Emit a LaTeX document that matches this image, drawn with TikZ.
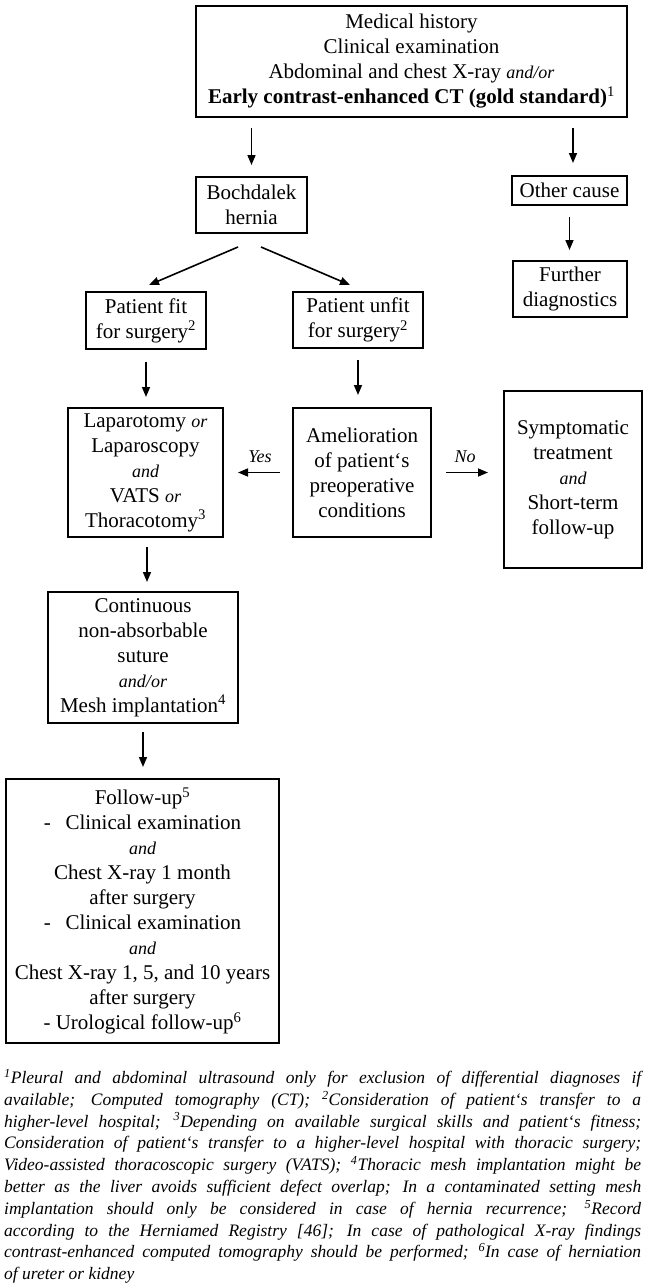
\documentclass[tikz,border=0pt]{standalone}
\usepackage{fontspec}
\setmainfont{Liberation Serif}
\usetikzlibrary{arrows.meta}
\newcommand{\smit}[1]{{\fontsize{18}{25}\selectfont\itshape #1}}
\begin{document}
\begin{tikzpicture}[x=1pt,y=-1pt,
  box/.style={draw, line width=1.8pt, rectangle, align=center, inner sep=0pt, outer sep=0pt, font=\fontsize{21}{25}\selectfont},
  arr/.style={line width=1.6pt, -{Triangle[length=10pt,width=8pt]}},
  lbl/.style={font=\fontsize{18}{22}\selectfont\itshape, inner sep=0pt}]
\fill[white] (0,0) rectangle (653,1287);
\useasboundingbox (0,0) rectangle (653,1287);

\node[box, minimum width=431pt, minimum height=111pt] (top) at (411.5,61.5)
  {Medical history\\ Clinical examination\\ Abdominal and chest X-ray \smit{and/or}\\
   \textbf{Early contrast-enhanced CT (gold standard)}\textsuperscript{1}};
\node[box, minimum width=111pt, minimum height=56pt] (boch) at (251.5,205) {Bochdalek\\ hernia};
\node[box, minimum width=115pt, minimum height=29pt] (other) at (569.5,190.5) {Other cause};
\node[box, minimum width=114pt, minimum height=56pt] (further) at (570,289) {Further\\ diagnostics};
\node[box, minimum width=120pt, minimum height=57pt] (fit) at (146,320.5) {Patient fit\\ for surgery\textsuperscript{2}};
\node[box, minimum width=130pt, minimum height=56pt] (unfit) at (358,320) {Patient unfit\\ for surgery\textsuperscript{2}};
\node[box, minimum width=155pt, minimum height=129pt] (lap) at (145.5,472.5)
  {Laparotomy \smit{or}\\ Laparoscopy\\ \smit{and}\\ VATS \smit{or}\\ Thoracotomy\textsuperscript{3}};
\node[box, minimum width=138pt, minimum height=129pt] (amel) at (362,472.5)
  {Amelioration\\ of patient‘s\\ preoperative\\ conditions};
\node[box, minimum width=138pt, minimum height=177pt] (symp) at (573,479.5)
  {Symptomatic\\ treatment\\ \smit{and}\\ Short-term\\ follow-up};
\node[box, minimum width=190pt, minimum height=131pt] (cont) at (143,657.5)
  {Continuous\\ non-absorbable\\ suture\\ \smit{and/or}\\ Mesh implantation\textsuperscript{4}};
\node[box, minimum width=273pt, minimum height=264pt] (follow) at (142.5,911)
  {Follow-up\textsuperscript{5}\\
   -\hspace{0.7em}Clinical examination\\ \smit{and}\\ Chest X-ray 1 month\\ after surgery\\
   -\hspace{0.7em}Clinical examination\\ \smit{and}\\ Chest X-ray 1, 5, and 10 years\\ after surgery\\
   - Urological follow-up\textsuperscript{6}};

\node[lbl] (yes) at (260,457) {Yes};
\node[lbl] (no) at (465,457) {No};

\draw[arr, shorten <=11pt, shorten >=12pt] (top.south -| boch.north) -- (boch.north);
\draw[arr, shorten <=11pt, shorten >=13pt] ([xshift=3.5pt]top.south -| other.north) -- ([xshift=3.5pt]other.north);
\draw[arr, shorten <=12pt, shorten >=11pt] (other.south) -- (other.south |- further.north);
\draw[arr] ([xshift=-13.5pt,yshift=-14pt]boch.south) -- ([xshift=3pt,yshift=7pt]fit.north);
\draw[arr] ([xshift=9.5pt,yshift=-14pt]boch.south) -- ([xshift=-8pt,yshift=7pt]unfit.north);
\draw[arr, shorten <=13pt, shorten >=11pt] (fit.south) -- (fit.south |- lap.north);
\draw[arr, shorten <=12pt, shorten >=13pt] (unfit.south) -- (unfit.south |- amel.north);
\draw[arr, shorten <=13pt, shorten >=15pt] (amel.west) -- (amel.west -| lap.east);
\draw[arr, shorten <=15pt, shorten >=16pt] (amel.east) -- (amel.east -| symp.west);
\draw[arr, shorten <=10pt, shorten >=10pt] ([xshift=1.5pt]lap.south) -- ([xshift=1.5pt]lap.south |- cont.north);
\draw[arr, shorten <=9pt, shorten >=12pt] (cont.south) -- (cont.south |- follow.north);

\node[anchor=north west, inner sep=0pt, text width=637pt, align=justify,
      font=\fontsize{17.5}{21.8}\selectfont\itshape] (notes) at (4,1069)
 {\hyphenpenalty=10000 \tolerance=10000
  \textsuperscript{1}Pleural and abdominal ultrasound only for exclusion of differential diagnoses if\linebreak
  available; Computed tomography (CT); \textsuperscript{2}Consideration of patient‘s transfer to a\linebreak
  higher-level hospital; \textsuperscript{3}Depending on available surgical skills and patient‘s fitness;\linebreak
  Consideration of patient‘s transfer to a higher-level hospital with thoracic surgery;\linebreak
  Video-assisted thoracoscopic surgery (VATS); \textsuperscript{4}Thoracic mesh implantation might be\linebreak
  better as the liver avoids sufficient defect overlap; In a contaminated setting mesh\linebreak
  implantation should only be considered in case of hernia recurrence; \textsuperscript{5}Record\linebreak
  according to the Herniamed Registry [46]; In case of pathological X-ray findings\linebreak
  contrast-enhanced computed tomography should be performed; \textsuperscript{6}In case of herniation\linebreak
  of ureter or kidney};
\end{tikzpicture}
\end{document}
